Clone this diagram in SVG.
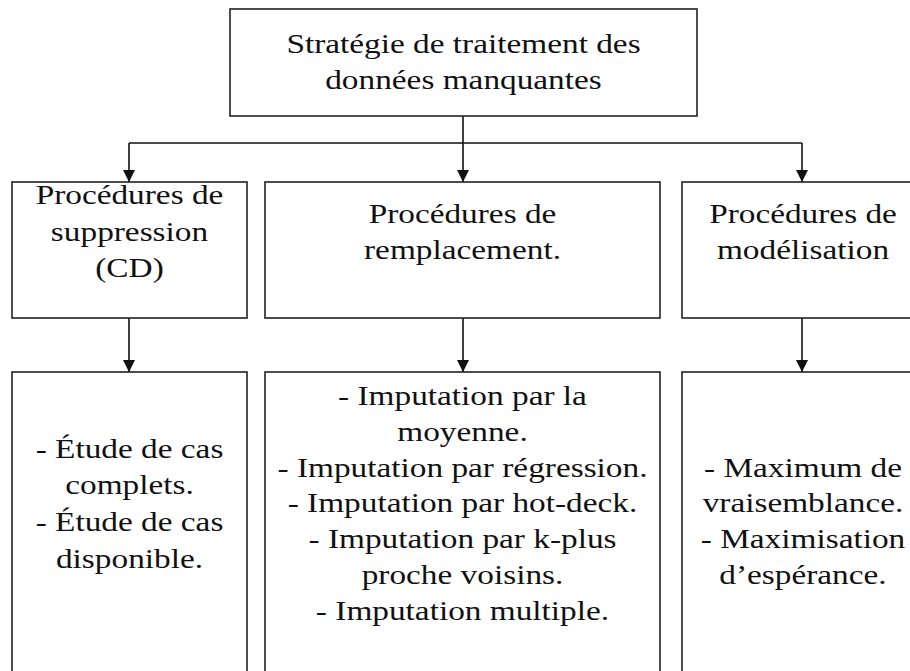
<svg xmlns="http://www.w3.org/2000/svg" width="910" height="671" viewBox="0 0 910 671">
  <style>
    .box { fill: #ffffff; stroke: #222222; stroke-width: 1.6; }
    .wire { fill: none; stroke: #111111; stroke-width: 1.6; }
    .lbl { font-family: "Liberation Serif", "DejaVu Serif", "Times New Roman", Times, serif; font-size: 28px; fill: #111111; text-anchor: middle; }
  </style>
  <defs>
    <marker id="tip" viewBox="0 0 12 12" refX="12" refY="6" markerWidth="12" markerHeight="12" markerUnits="userSpaceOnUse" orient="auto">
      <path d="M0,0 L12,6 L0,12 Z" fill="#111111"/>
    </marker>
  </defs>
  <rect width="910" height="671" fill="#ffffff"/>

  <!-- connectors -->
  <g id="connectors">
    <path class="wire" d="M463,116 V143"/>
    <path class="wire" d="M129,143 H802"/>
    <path class="wire" d="M129,143 V182" marker-end="url(#tip)"/>
    <path class="wire" d="M463,143 V182" marker-end="url(#tip)"/>
    <path class="wire" d="M802,143 V182" marker-end="url(#tip)"/>
    <path class="wire" d="M129,318 V372" marker-end="url(#tip)"/>
    <path class="wire" d="M463,318 V372" marker-end="url(#tip)"/>
    <path class="wire" d="M802,318 V372" marker-end="url(#tip)"/>
  </g>

  <!-- root -->
  <g id="root">
    <rect class="box" x="230" y="9" width="467" height="107"/>
    <g transform="translate(463.5,0) scale(1.19,1)">
      <text class="lbl" x="0" y="53">Stratégie de traitement des</text>
      <text class="lbl" x="0" y="89">données manquantes</text>
    </g>
  </g>

  <!-- level 1 -->
  <g id="suppression">
    <rect class="box" x="12" y="182" width="235" height="136"/>
    <g transform="translate(129.5,0) scale(1.19,1)">
      <text class="lbl" x="0" y="204">Procédures de</text>
      <text class="lbl" x="0" y="241">suppression</text>
      <text class="lbl" x="0" y="277">(CD)</text>
    </g>
  </g>
  <g id="remplacement">
    <rect class="box" x="265" y="182" width="395" height="136"/>
    <g transform="translate(462.5,0) scale(1.19,1)">
      <text class="lbl" x="0" y="223">Procédures de</text>
      <text class="lbl" x="0" y="259">remplacement.</text>
    </g>
  </g>
  <g id="modelisation">
    <rect class="box" x="682" y="182" width="242" height="136"/>
    <g transform="translate(803,0) scale(1.19,1)">
      <text class="lbl" x="0" y="223">Procédures de</text>
      <text class="lbl" x="0" y="259">modélisation</text>
    </g>
  </g>

  <!-- level 2 -->
  <g id="cas">
    <rect class="box" x="12" y="372" width="235" height="320"/>
    <g transform="translate(129.5,0) scale(1.19,1)">
      <text class="lbl" x="0" y="458">- Étude de cas</text>
      <text class="lbl" x="0" y="494">complets.</text>
      <text class="lbl" x="0" y="531">- Étude de cas</text>
      <text class="lbl" x="0" y="568">disponible.</text>
    </g>
  </g>
  <g id="imputation">
    <rect class="box" x="265" y="372" width="395" height="320"/>
    <g transform="translate(462.5,0) scale(1.19,1)">
      <text class="lbl" x="0" y="405">- Imputation par la</text>
      <text class="lbl" x="0" y="441">moyenne.</text>
      <text class="lbl" x="0" y="477">- Imputation par régression.</text>
      <text class="lbl" x="0" y="512">- Imputation par hot-deck.</text>
      <text class="lbl" x="0" y="548">- Imputation par k-plus</text>
      <text class="lbl" x="0" y="584">proche voisins.</text>
      <text class="lbl" x="0" y="620">- Imputation multiple.</text>
    </g>
  </g>
  <g id="vraisemblance">
    <rect class="box" x="682" y="372" width="242" height="320"/>
    <g transform="translate(803,0) scale(1.19,1)">
      <text class="lbl" x="0" y="477">- Maximum de</text>
      <text class="lbl" x="0" y="512">vraisemblance.</text>
      <text class="lbl" x="0" y="548">- Maximisation</text>
      <text class="lbl" x="0" y="584">d’espérance.</text>
    </g>
  </g>
</svg>
